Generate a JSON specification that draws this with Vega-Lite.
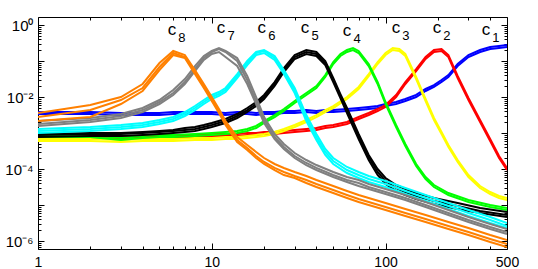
{
"$schema": "https://vega.github.io/schema/vega-lite/v6.json",
"width": 469, "height": 232,
"autosize": "none",
"padding": {"left": 38, "top": 17, "right": 31, "bottom": 20},
"background": "white",
"config": {"view": {"stroke": null}, "axis": {"domainColor": "black", "tickColor": "black", "labelColor": "black", "labelFont": "Liberation Sans", "labelFontSize": 15, "grid": false, "title": null, "labelFlush": false, "labelOverlap": false}},
"datasets": {
"curves": [
{"c":"c1","x":1,"a":3.83e-3,"b":3.37e-3},
{"c":"c1","x":2,"a":3.83e-3,"b":3.37e-3},
{"c":"c1","x":3,"a":3.59e-3,"b":3.16e-3},
{"c":"c1","x":4,"a":3.59e-3,"b":3.16e-3},
{"c":"c1","x":5,"a":3.59e-3,"b":3.16e-3},
{"c":"c1","x":6,"a":3.83e-3,"b":3.37e-3},
{"c":"c1","x":8,"a":3.83e-3,"b":3.37e-3},
{"c":"c1","x":10,"a":3.83e-3,"b":3.37e-3},
{"c":"c1","x":12,"a":3.59e-3,"b":3.16e-3},
{"c":"c1","x":14,"a":3.83e-3,"b":3.37e-3},
{"c":"c1","x":16,"a":3.83e-3,"b":3.37e-3},
{"c":"c1","x":18,"a":3.59e-3,"b":3.16e-3},
{"c":"c1","x":20,"a":3.83e-3,"b":3.37e-3},
{"c":"c1","x":23,"a":3.83e-3,"b":3.37e-3},
{"c":"c1","x":26,"a":4.08e-3,"b":3.59e-3},
{"c":"c1","x":30,"a":4.08e-3,"b":3.59e-3},
{"c":"c1","x":35,"a":4.35e-3,"b":3.83e-3},
{"c":"c1","x":40,"a":4.08e-3,"b":3.59e-3},
{"c":"c1","x":45,"a":4.35e-3,"b":3.83e-3},
{"c":"c1","x":50,"a":4.35e-3,"b":3.83e-3},
{"c":"c1","x":60,"a":4.64e-3,"b":4.08e-3},
{"c":"c1","x":70,"a":4.95e-3,"b":4.35e-3},
{"c":"c1","x":80,"a":5.27e-3,"b":4.64e-3},
{"c":"c1","x":90,"a":5.62e-3,"b":4.95e-3},
{"c":"c1","x":100,"a":6.39e-3,"b":5.62e-3},
{"c":"c1","x":115,"a":7.26e-3,"b":6.39e-3},
{"c":"c1","x":130,"a":8.8e-3,"b":7.74e-3},
{"c":"c1","x":150,"a":1.14e-2,"b":1e-2},
{"c":"c1","x":170,"a":1.67e-2,"b":1.47e-2},
{"c":"c1","x":190,"a":2.15e-2,"b":1.9e-2},
{"c":"c1","x":210,"a":2.97e-2,"b":2.61e-2},
{"c":"c1","x":230,"a":4.08e-2,"b":3.59e-2},
{"c":"c1","x":260,"a":8.25e-2,"b":7.26e-2},
{"c":"c1","x":300,"a":0.147,"b":0.129},
{"c":"c1","x":350,"a":0.202,"b":0.178},
{"c":"c1","x":400,"a":0.245,"b":0.215},
{"c":"c1","x":450,"a":0.261,"b":0.23},
{"c":"c1","x":500,"a":0.278,"b":0.245},
{"c":"c2","x":1,"a":7.74e-4,"b":6.81e-4},
{"c":"c2","x":2,"a":7.74e-4,"b":6.81e-4},
{"c":"c2","x":3,"a":8.25e-4,"b":7.26e-4},
{"c":"c2","x":5,"a":8.25e-4,"b":7.26e-4},
{"c":"c2","x":8,"a":8.8e-4,"b":7.74e-4},
{"c":"c2","x":10,"a":9.38e-4,"b":8.25e-4},
{"c":"c2","x":12,"a":9.38e-4,"b":8.25e-4},
{"c":"c2","x":14,"a":9.38e-4,"b":8.25e-4},
{"c":"c2","x":16,"a":1e-3,"b":8.8e-4},
{"c":"c2","x":18,"a":1e-3,"b":8.8e-4},
{"c":"c2","x":20,"a":1.07e-3,"b":9.38e-4},
{"c":"c2","x":23,"a":1.07e-3,"b":9.38e-4},
{"c":"c2","x":26,"a":1.14e-3,"b":1e-3},
{"c":"c2","x":30,"a":1.21e-3,"b":1.07e-3},
{"c":"c2","x":35,"a":1.29e-3,"b":1.14e-3},
{"c":"c2","x":40,"a":1.38e-3,"b":1.21e-3},
{"c":"c2","x":45,"a":1.57e-3,"b":1.38e-3},
{"c":"c2","x":50,"a":1.67e-3,"b":1.47e-3},
{"c":"c2","x":60,"a":2.02e-3,"b":1.78e-3},
{"c":"c2","x":70,"a":2.78e-3,"b":2.45e-3},
{"c":"c2","x":80,"a":3.59e-3,"b":3.16e-3},
{"c":"c2","x":90,"a":4.64e-3,"b":4.08e-3},
{"c":"c2","x":100,"a":5.99e-3,"b":5.27e-3},
{"c":"c2","x":115,"a":1.14e-2,"b":1e-2},
{"c":"c2","x":130,"a":2.61e-2,"b":2.3e-2},
{"c":"c2","x":150,"a":5.99e-2,"b":5.27e-2},
{"c":"c2","x":170,"a":0.129,"b":0.114},
{"c":"c2","x":190,"a":0.202,"b":0.178},
{"c":"c2","x":210,"a":0.215,"b":0.19},
{"c":"c2","x":230,"a":0.147,"b":0.129},
{"c":"c2","x":260,"a":3.83e-2,"b":3.37e-2},
{"c":"c2","x":300,"a":9.38e-3,"b":8.25e-3},
{"c":"c2","x":350,"a":2.3e-3,"b":2.02e-3},
{"c":"c2","x":400,"a":6.81e-4,"b":5.99e-4},
{"c":"c2","x":450,"a":2.3e-4,"b":2.02e-4},
{"c":"c2","x":500,"a":1.07e-4,"b":9.38e-5},
{"c":"c3","x":1,"a":6.81e-4,"b":5.99e-4},
{"c":"c3","x":2,"a":6.81e-4,"b":5.99e-4},
{"c":"c3","x":3,"a":6.39e-4,"b":5.62e-4},
{"c":"c3","x":4,"a":6.81e-4,"b":5.99e-4},
{"c":"c3","x":6,"a":6.81e-4,"b":5.99e-4},
{"c":"c3","x":8,"a":7.26e-4,"b":6.39e-4},
{"c":"c3","x":10,"a":7.26e-4,"b":6.39e-4},
{"c":"c3","x":12,"a":7.74e-4,"b":6.81e-4},
{"c":"c3","x":14,"a":7.74e-4,"b":6.81e-4},
{"c":"c3","x":16,"a":8.25e-4,"b":7.26e-4},
{"c":"c3","x":18,"a":8.8e-4,"b":7.74e-4},
{"c":"c3","x":20,"a":9.38e-4,"b":8.25e-4},
{"c":"c3","x":23,"a":1.07e-3,"b":9.38e-4},
{"c":"c3","x":26,"a":1.29e-3,"b":1.14e-3},
{"c":"c3","x":30,"a":1.67e-3,"b":1.47e-3},
{"c":"c3","x":35,"a":2.3e-3,"b":2.02e-3},
{"c":"c3","x":40,"a":3.16e-3,"b":2.78e-3},
{"c":"c3","x":45,"a":4.35e-3,"b":3.83e-3},
{"c":"c3","x":50,"a":5.62e-3,"b":4.95e-3},
{"c":"c3","x":60,"a":1e-2,"b":8.8e-3},
{"c":"c3","x":70,"a":1.9e-2,"b":1.67e-2},
{"c":"c3","x":80,"a":4.35e-2,"b":3.83e-2},
{"c":"c3","x":90,"a":9.38e-2,"b":8.25e-2},
{"c":"c3","x":100,"a":0.167,"b":0.147},
{"c":"c3","x":110,"a":0.23,"b":0.202},
{"c":"c3","x":120,"a":0.215,"b":0.19},
{"c":"c3","x":130,"a":0.157,"b":0.138},
{"c":"c3","x":150,"a":3.59e-2,"b":3.16e-2},
{"c":"c3","x":170,"a":8.8e-3,"b":7.74e-3},
{"c":"c3","x":190,"a":2.61e-3,"b":2.3e-3},
{"c":"c3","x":210,"a":1.07e-3,"b":9.38e-4},
{"c":"c3","x":230,"a":4.64e-4,"b":4.08e-4},
{"c":"c3","x":260,"a":1.78e-4,"b":1.57e-4},
{"c":"c3","x":300,"a":6.81e-5,"b":5.99e-5},
{"c":"c3","x":350,"a":3.37e-5,"b":2.97e-5},
{"c":"c3","x":400,"a":2.3e-5,"b":2.02e-5},
{"c":"c3","x":450,"a":1.78e-5,"b":1.57e-5},
{"c":"c3","x":500,"a":1.57e-5,"b":1.38e-5},
{"c":"c4","x":1,"a":8.8e-4,"b":7.74e-4},
{"c":"c4","x":2,"a":8.8e-4,"b":7.74e-4},
{"c":"c4","x":3,"a":7.26e-4,"b":6.39e-4},
{"c":"c4","x":4,"a":8.25e-4,"b":7.26e-4},
{"c":"c4","x":5,"a":8.8e-4,"b":7.74e-4},
{"c":"c4","x":6,"a":8.8e-4,"b":7.74e-4},
{"c":"c4","x":8,"a":9.38e-4,"b":8.25e-4},
{"c":"c4","x":10,"a":1e-3,"b":8.8e-4},
{"c":"c4","x":12,"a":1.07e-3,"b":9.38e-4},
{"c":"c4","x":14,"a":1.14e-3,"b":1e-3},
{"c":"c4","x":16,"a":1.29e-3,"b":1.14e-3},
{"c":"c4","x":18,"a":1.57e-3,"b":1.38e-3},
{"c":"c4","x":20,"a":2.15e-3,"b":1.9e-3},
{"c":"c4","x":23,"a":3.16e-3,"b":2.78e-3},
{"c":"c4","x":26,"a":4.64e-3,"b":4.08e-3},
{"c":"c4","x":30,"a":7.74e-3,"b":6.81e-3},
{"c":"c4","x":35,"a":1.29e-2,"b":1.14e-2},
{"c":"c4","x":40,"a":2.02e-2,"b":1.78e-2},
{"c":"c4","x":45,"a":4.08e-2,"b":3.59e-2},
{"c":"c4","x":50,"a":9.38e-2,"b":8.25e-2},
{"c":"c4","x":55,"a":0.157,"b":0.138},
{"c":"c4","x":60,"a":0.202,"b":0.178},
{"c":"c4","x":65,"a":0.23,"b":0.202},
{"c":"c4","x":70,"a":0.19,"b":0.167},
{"c":"c4","x":80,"a":8.25e-2,"b":7.26e-2},
{"c":"c4","x":90,"a":2.61e-2,"b":2.3e-2},
{"c":"c4","x":100,"a":7.26e-3,"b":6.39e-3},
{"c":"c4","x":115,"a":1.67e-3,"b":1.47e-3},
{"c":"c4","x":130,"a":4.95e-4,"b":4.35e-4},
{"c":"c4","x":150,"a":1.38e-4,"b":1.21e-4},
{"c":"c4","x":170,"a":5.99e-5,"b":5.27e-5},
{"c":"c4","x":190,"a":3.59e-5,"b":3.16e-5},
{"c":"c4","x":230,"a":2.15e-5,"b":1.9e-5},
{"c":"c4","x":300,"a":1.38e-5,"b":1.21e-5},
{"c":"c4","x":400,"a":1e-5,"b":8.8e-6},
{"c":"c4","x":500,"a":8.25e-6,"b":7.26e-6},
{"c":"c5","x":1,"a":9.38e-4,"b":8.8e-4,"d":7.74e-4},
{"c":"c5","x":2,"a":1e-3,"b":9.38e-4,"d":8.25e-4},
{"c":"c5","x":3,"a":1e-3,"b":9.38e-4,"d":8.25e-4},
{"c":"c5","x":4,"a":1.07e-3,"b":1e-3,"d":8.8e-4},
{"c":"c5","x":5,"a":1.14e-3,"b":1.07e-3,"d":9.38e-4},
{"c":"c5","x":6,"a":1.21e-3,"b":1.14e-3,"d":1e-3},
{"c":"c5","x":7,"a":1.38e-3,"b":1.21e-3,"d":1.07e-3},
{"c":"c5","x":8,"a":1.47e-3,"b":1.29e-3,"d":1.14e-3},
{"c":"c5","x":9,"a":1.67e-3,"b":1.47e-3,"d":1.29e-3},
{"c":"c5","x":10,"a":1.9e-3,"b":1.67e-3,"d":1.47e-3},
{"c":"c5","x":12,"a":2.45e-3,"b":2.15e-3,"d":1.9e-3},
{"c":"c5","x":14,"a":3.37e-3,"b":2.97e-3,"d":2.61e-3},
{"c":"c5","x":16,"a":4.95e-3,"b":4.35e-3,"d":3.83e-3},
{"c":"c5","x":18,"a":7.26e-3,"b":6.39e-3,"d":5.62e-3},
{"c":"c5","x":20,"a":1.14e-2,"b":1e-2,"d":8.8e-3},
{"c":"c5","x":23,"a":2.61e-2,"b":2.3e-2,"d":2.02e-2},
{"c":"c5","x":26,"a":6.39e-2,"b":5.62e-2,"d":4.95e-2},
{"c":"c5","x":30,"a":0.147,"b":0.129,"d":0.114},
{"c":"c5","x":35,"a":0.202,"b":0.178,"d":0.157},
{"c":"c5","x":40,"a":0.178,"b":0.157,"d":0.138},
{"c":"c5","x":45,"a":0.1,"b":8.8e-2,"d":7.74e-2},
{"c":"c5","x":50,"a":3.37e-2,"b":2.97e-2,"d":2.61e-2},
{"c":"c5","x":55,"a":1.21e-2,"b":1.07e-2,"d":9.38e-3},
{"c":"c5","x":60,"a":4.95e-3,"b":4.35e-3,"d":3.59e-3},
{"c":"c5","x":70,"a":9.38e-4,"b":8.25e-4,"d":6.81e-4},
{"c":"c5","x":80,"a":2.45e-4,"b":2.15e-4,"d":1.78e-4},
{"c":"c5","x":90,"a":1e-4,"b":8.25e-5,"d":6.81e-5},
{"c":"c5","x":100,"a":5.62e-5,"b":4.64e-5,"d":3.83e-5},
{"c":"c5","x":115,"a":3.59e-5,"b":2.97e-5,"d":2.45e-5},
{"c":"c5","x":130,"a":2.78e-5,"b":2.3e-5,"d":1.9e-5},
{"c":"c5","x":150,"a":2.15e-5,"b":1.78e-5,"d":1.47e-5},
{"c":"c5","x":190,"a":1.57e-5,"b":1.29e-5,"d":1.07e-5},
{"c":"c5","x":260,"a":1.14e-5,"b":9.38e-6,"d":7.74e-6},
{"c":"c5","x":350,"a":8.25e-6,"b":6.81e-6,"d":5.99e-6},
{"c":"c5","x":500,"a":6.39e-6,"b":5.27e-6,"d":4.64e-6},
{"c":"c6","x":1,"a":1.29e-3,"b":1.14e-3,"d":1e-3},
{"c":"c6","x":2,"a":1.47e-3,"b":1.29e-3,"d":1.14e-3},
{"c":"c6","x":3,"a":1.67e-3,"b":1.47e-3,"d":1.29e-3},
{"c":"c6","x":4,"a":1.9e-3,"b":1.67e-3,"d":1.47e-3},
{"c":"c6","x":5,"a":2.3e-3,"b":2.02e-3,"d":1.78e-3},
{"c":"c6","x":6,"a":2.78e-3,"b":2.45e-3,"d":2.15e-3},
{"c":"c6","x":7,"a":3.83e-3,"b":3.37e-3,"d":2.97e-3},
{"c":"c6","x":8,"a":5.62e-3,"b":4.95e-3,"d":4.35e-3},
{"c":"c6","x":9,"a":8.25e-3,"b":7.26e-3,"d":6.39e-3},
{"c":"c6","x":10,"a":1.14e-2,"b":1e-2,"d":8.8e-3},
{"c":"c6","x":11,"a":1.38e-2,"b":1.21e-2,"d":1.07e-2},
{"c":"c6","x":12,"a":1.78e-2,"b":1.57e-2,"d":1.38e-2},
{"c":"c6","x":14,"a":4.35e-2,"b":3.83e-2,"d":3.37e-2},
{"c":"c6","x":16,"a":0.1,"b":8.8e-2,"d":7.74e-2},
{"c":"c6","x":18,"a":0.178,"b":0.167,"d":0.147},
{"c":"c6","x":20,"a":0.202,"b":0.19,"d":0.167},
{"c":"c6","x":23,"a":0.138,"b":0.121,"d":0.107},
{"c":"c6","x":26,"a":5.62e-2,"b":4.95e-2,"d":4.35e-2},
{"c":"c6","x":30,"a":1.78e-2,"b":1.57e-2,"d":1.29e-2},
{"c":"c6","x":35,"a":3.16e-3,"b":2.61e-3,"d":2.15e-3},
{"c":"c6","x":40,"a":9.38e-4,"b":7.74e-4,"d":6.39e-4},
{"c":"c6","x":45,"a":3.59e-4,"b":2.97e-4,"d":2.45e-4},
{"c":"c6","x":50,"a":2.02e-4,"b":1.67e-4,"d":1.38e-4},
{"c":"c6","x":60,"a":1.14e-4,"b":9.38e-5,"d":7.74e-5},
{"c":"c6","x":70,"a":8.25e-5,"b":6.81e-5,"d":5.62e-5},
{"c":"c6","x":80,"a":6.39e-5,"b":5.27e-5,"d":4.35e-5},
{"c":"c6","x":100,"a":4.64e-5,"b":3.83e-5,"d":3.16e-5},
{"c":"c6","x":130,"a":2.97e-5,"b":2.45e-5,"d":2.02e-5},
{"c":"c6","x":170,"a":1.9e-5,"b":1.57e-5,"d":1.29e-5},
{"c":"c6","x":230,"a":1.14e-5,"b":9.38e-6,"d":7.74e-6},
{"c":"c6","x":300,"a":7.26e-6,"b":5.99e-6,"d":4.95e-6},
{"c":"c6","x":400,"a":4.64e-6,"b":3.83e-6,"d":3.16e-6},
{"c":"c6","x":500,"a":3.16e-6,"b":2.61e-6,"d":2.3e-6},
{"c":"c7","x":1,"a":2.15e-3,"b":1.78e-3,"d":1.57e-3},
{"c":"c7","x":2,"a":2.61e-3,"b":2.3e-3,"d":2.02e-3},
{"c":"c7","x":3,"a":3.37e-3,"b":2.97e-3,"d":2.61e-3},
{"c":"c7","x":4,"a":4.95e-3,"b":4.35e-3,"d":3.83e-3},
{"c":"c7","x":5,"a":8.25e-3,"b":7.26e-3,"d":6.39e-3},
{"c":"c7","x":6,"a":1.57e-2,"b":1.29e-2,"d":1.14e-2},
{"c":"c7","x":7,"a":3.16e-2,"b":2.61e-2,"d":2.3e-2},
{"c":"c7","x":8,"a":7.26e-2,"b":5.99e-2,"d":5.27e-2},
{"c":"c7","x":9,"a":0.138,"b":0.121,"d":0.107},
{"c":"c7","x":10,"a":0.19,"b":0.178,"d":0.157},
{"c":"c7","x":11,"a":0.23,"b":0.215,"d":0.178},
{"c":"c7","x":12,"a":0.19,"b":0.178,"d":0.129},
{"c":"c7","x":14,"a":0.121,"b":0.1,"d":7.26e-2},
{"c":"c7","x":16,"a":3.83e-2,"b":2.97e-2,"d":2.3e-2},
{"c":"c7","x":18,"a":1e-2,"b":7.74e-3,"d":6.39e-3},
{"c":"c7","x":20,"a":2.78e-3,"b":2.3e-3,"d":1.9e-3},
{"c":"c7","x":23,"a":9.38e-4,"b":7.74e-4,"d":6.81e-4},
{"c":"c7","x":26,"a":4.95e-4,"b":4.08e-4,"d":3.59e-4},
{"c":"c7","x":30,"a":2.78e-4,"b":2.3e-4,"d":2.02e-4},
{"c":"c7","x":35,"a":1.78e-4,"b":1.47e-4,"d":1.29e-4},
{"c":"c7","x":40,"a":1.29e-4,"b":1.07e-4,"d":9.38e-5},
{"c":"c7","x":50,"a":8.25e-5,"b":6.81e-5,"d":5.99e-5},
{"c":"c7","x":60,"a":5.99e-5,"b":4.95e-5,"d":4.35e-5},
{"c":"c7","x":70,"a":4.95e-5,"b":4.08e-5,"d":3.37e-5},
{"c":"c7","x":80,"a":3.83e-5,"b":3.16e-5,"d":2.78e-5},
{"c":"c7","x":100,"a":2.78e-5,"b":2.3e-5,"d":2.02e-5},
{"c":"c7","x":130,"a":1.9e-5,"b":1.57e-5,"d":1.38e-5},
{"c":"c7","x":170,"a":1.21e-5,"b":1e-5,"d":8.8e-6},
{"c":"c7","x":230,"a":7.26e-6,"b":5.99e-6,"d":5.27e-6},
{"c":"c7","x":300,"a":4.64e-6,"b":3.83e-6,"d":3.37e-6},
{"c":"c7","x":400,"a":2.97e-6,"b":2.45e-6,"d":2.15e-6},
{"c":"c7","x":500,"a":2.15e-6,"b":1.78e-6,"d":1.57e-6},
{"c":"c8","x":1,"a":3.59e-3,"b":2.78e-3,"d":2.15e-3},
{"c":"c8","x":2,"a":5.99e-3,"b":4.35e-3,"d":2.78e-3},
{"c":"c8","x":3,"a":1e-2,"b":8.25e-3,"d":6.39e-3},
{"c":"c8","x":4,"a":2.3e-2,"b":1.78e-2,"d":1.47e-2},
{"c":"c8","x":5,"a":8.8e-2,"b":6.81e-2,"d":5.62e-2},
{"c":"c8","x":6,"a":0.19,"b":0.167,"d":0.147},
{"c":"c8","x":7,"a":0.147,"b":0.129,"d":0.121},
{"c":"c8","x":8,"a":5.62e-2,"b":4.95e-2,"d":4.35e-2},
{"c":"c8","x":9,"a":2.3e-2,"b":2.02e-2,"d":1.78e-2},
{"c":"c8","x":10,"a":1e-2,"b":8.8e-3,"d":7.74e-3},
{"c":"c8","x":11,"a":4.64e-3,"b":4.08e-3,"d":3.59e-3},
{"c":"c8","x":12,"a":2.15e-3,"b":1.9e-3,"d":1.67e-3},
{"c":"c8","x":14,"a":7.74e-4,"b":6.39e-4,"d":5.62e-4},
{"c":"c8","x":16,"a":4.64e-4,"b":3.83e-4,"d":3.37e-4},
{"c":"c8","x":18,"a":2.97e-4,"b":2.3e-4,"d":2.02e-4},
{"c":"c8","x":20,"a":2.02e-4,"b":1.57e-4,"d":1.38e-4},
{"c":"c8","x":23,"a":1.38e-4,"b":1.07e-4,"d":9.38e-5},
{"c":"c8","x":26,"a":1.07e-4,"b":8.25e-5,"d":6.81e-5},
{"c":"c8","x":30,"a":8.25e-5,"b":6.39e-5,"d":5.62e-5},
{"c":"c8","x":35,"a":6.39e-5,"b":4.95e-5,"d":4.08e-5},
{"c":"c8","x":40,"a":4.95e-5,"b":3.83e-5,"d":3.16e-5},
{"c":"c8","x":50,"a":3.37e-5,"b":2.61e-5,"d":2.15e-5},
{"c":"c8","x":60,"a":2.45e-5,"b":1.9e-5,"d":1.57e-5},
{"c":"c8","x":70,"a":1.9e-5,"b":1.47e-5,"d":1.21e-5},
{"c":"c8","x":80,"a":1.57e-5,"b":1.21e-5,"d":1e-5},
{"c":"c8","x":100,"a":1.14e-5,"b":8.8e-6,"d":7.26e-6},
{"c":"c8","x":130,"a":7.74e-6,"b":5.99e-6,"d":4.95e-6},
{"c":"c8","x":170,"a":5.27e-6,"b":4.08e-6,"d":3.37e-6},
{"c":"c8","x":230,"a":3.37e-6,"b":2.61e-6,"d":2.15e-6},
{"c":"c8","x":300,"a":2.3e-6,"b":1.78e-6,"d":1.47e-6},
{"c":"c8","x":400,"a":1.47e-6,"b":1.14e-6,"d":9.38e-7},
{"c":"c8","x":500,"a":1.07e-6,"b":8.25e-7,"d":6.81e-7}
],
"labels": [
{"k":"c1","n":"1","x":378,"y":0.527},
{"k":"c2","n":"2","x":197.7,"y":0.599},
{"k":"c3","n":"3","x":114.8,"y":0.599},
{"k":"c4","n":"4","x":60,"y":0.48},
{"k":"c5","n":"5","x":34.4,"y":0.599},
{"k":"c6","n":"6","x":19.4,"y":0.599},
{"k":"c7","n":"7","x":11.3,"y":0.599},
{"k":"c8","n":"8","x":5.9,"y":0.527}
]
},
"layer": [
{
"data": {"name": "curves"},
"transform": [{"fold": ["a", "b", "d"], "as": ["r", "y"]}, {"filter": "isValid(datum.y)"}],
"mark": {"type": "line", "clip": true},
"encoding": {
"x": {"field": "x", "type": "quantitative", "scale": {"type": "log", "domain": [1, 500], "nice": false},
 "axis": {"orient": "bottom", "values": [1,2,3,4,5,6,7,8,9,10,20,30,40,50,60,70,80,90,100,200,300,400,500],
  "tickSize": {"condition": {"test": "datum.value==1||datum.value==10||datum.value==100||datum.value==500", "value": -6}, "value": -3},
  "labelFontSize": 14, "labelBaseline": "alphabetic", "labelPadding": 23,
  "labelExpr": "datum.value==1||datum.value==10||datum.value==100||datum.value==500 ? ''+datum.value : ''"}},
"y": {"field": "y", "type": "quantitative", "scale": {"type": "log", "domain": [6.0e-7, 1.67], "nice": false},
 "axis": {"orient": "left", "values": [7e-7,8e-7,9e-7,1e-6,2e-6,3e-6,4e-6,5e-6,6e-6,7e-6,8e-6,9e-6,1e-5,2e-5,3e-5,4e-5,5e-5,6e-5,7e-5,8e-5,9e-5,1e-4,2e-4,3e-4,4e-4,5e-4,6e-4,7e-4,8e-4,9e-4,1e-3,2e-3,3e-3,4e-3,5e-3,6e-3,7e-3,8e-3,9e-3,1e-2,2e-2,3e-2,4e-2,5e-2,6e-2,7e-2,8e-2,9e-2,0.1,0.2,0.3,0.4,0.5,0.6,0.7,0.8,0.9,1],
  "tickSize": {"condition": {"test": "abs(log(datum.value)/LN10 - round(log(datum.value)/LN10)) < 1e-6", "value": -6}, "value": -3},
  "labelPadding": 11,
  "labelExpr": "abs(datum.value-1)<1e-9 ? '10⁰' : abs(datum.value/0.01-1)<1e-6 ? '10⁻²' : abs(datum.value/1e-4-1)<1e-6 ? '10⁻⁴' : abs(datum.value/1e-6-1)<1e-6 ? '10⁻⁶' : ''"}},
"color": {"field": "c", "type": "nominal", "legend": null,
 "scale": {"domain": ["c1","c2","c3","c4","c5","c6","c7","c8"], "range": ["#0000ff","#ff0000","#ffff00","#00ff00","#000000","#00ffff","#808080","#ff8000"]}},
"strokeWidth": {"field": "c", "type": "ordinal", "legend": null,
 "scale": {"domain": ["c1","c2","c3","c4","c5","c6","c7","c8"], "range": [2,2,2,2,1.1,1,1,1]}},
"detail": {"field": "r", "type": "nominal"}
}
},
{
"data": {"name": "labels"},
"mark": {"type": "text", "text": "c", "font": "Liberation Sans", "fontSize": 17, "align": "center", "baseline": "alphabetic", "color": "black"},
"encoding": {
"x": {"field": "x", "type": "quantitative", "scale": {"type": "log", "domain": [1, 500], "nice": false}, "axis": null},
"y": {"field": "y", "type": "quantitative", "scale": {"type": "log", "domain": [6.0e-7, 1.67], "nice": false}, "axis": null}
}
},
{
"data": {"name": "labels"},
"mark": {"type": "text", "font": "Liberation Sans", "fontSize": 13, "align": "center", "baseline": "alphabetic", "color": "black", "dx": 10, "dy": 7},
"encoding": {
"x": {"field": "x", "type": "quantitative", "scale": {"type": "log", "domain": [1, 500], "nice": false}, "axis": null},
"y": {"field": "y", "type": "quantitative", "scale": {"type": "log", "domain": [6.0e-7, 1.67], "nice": false}, "axis": null},
"text": {"field": "n", "type": "nominal"}
}
},
{
"data": {"name": "labels"},
"mark": {"type": "point", "opacity": 0},
"encoding": {
"x": {"field": "x", "type": "quantitative", "scale": {"type": "log", "domain": [1, 500], "nice": false},
 "axis": {"orient": "top", "labels": false, "values": [1,2,3,4,5,6,7,8,9,10,20,30,40,50,60,70,80,90,100,200,300,400,500],
  "tickSize": {"condition": {"test": "datum.value==1||datum.value==10||datum.value==100", "value": -6}, "value": -3}}},
"y": {"field": "y", "type": "quantitative", "scale": {"type": "log", "domain": [6.0e-7, 1.67], "nice": false},
 "axis": {"orient": "right", "labels": false, "values": [7e-7,8e-7,9e-7,1e-6,2e-6,3e-6,4e-6,5e-6,6e-6,7e-6,8e-6,9e-6,1e-5,2e-5,3e-5,4e-5,5e-5,6e-5,7e-5,8e-5,9e-5,1e-4,2e-4,3e-4,4e-4,5e-4,6e-4,7e-4,8e-4,9e-4,1e-3,2e-3,3e-3,4e-3,5e-3,6e-3,7e-3,8e-3,9e-3,1e-2,2e-2,3e-2,4e-2,5e-2,6e-2,7e-2,8e-2,9e-2,0.1,0.2,0.3,0.4,0.5,0.6,0.7,0.8,0.9,1],
  "tickSize": {"condition": {"test": "abs(log(datum.value)/LN10 - round(log(datum.value)/LN10)) < 1e-6", "value": -6}, "value": -3}}}
}
}
],
"resolve": {"axis": {"x": "independent", "y": "independent"}}
}
